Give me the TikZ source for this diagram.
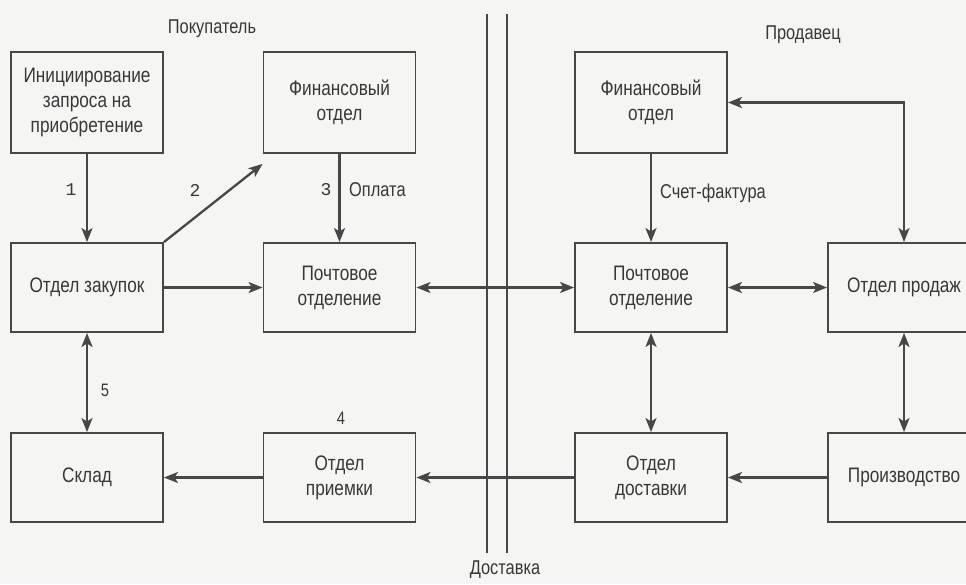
\documentclass[tikz,border=0pt]{standalone}
\usepackage{fontspec}
\setmainfont{Liberation Sans}[FakeStretch=0.82]
\newfontfamily\digitfont{Liberation Mono}
\usetikzlibrary{arrows.meta,calc}
\definecolor{ink}{HTML}{474747}
\definecolor{txt}{HTML}{383838}
\definecolor{paper}{HTML}{F5F5F3}
\tikzset{
  unit/.style={draw=ink, line width=1.9pt, inner sep=0pt, minimum width=152pt,
    minimum height=89pt, align=center, text=txt,
    font=\fontsize{21}{25}\selectfont},
  tallunit/.style={unit, minimum height=101pt},
  tip/.style={Stealth[length=14pt,width=11pt,inset=3.5pt]},
  flow/.style={draw=ink, line width=2.3pt, -{Stealth[length=14pt,width=11pt,inset=3.5pt]}},
  twoway/.style={draw=ink, line width=2.3pt,
    {Stealth[length=14pt,width=11pt,inset=3.5pt]}-{Stealth[length=14pt,width=11pt,inset=3.5pt]}},
  divider/.style={draw=ink, line width=1.5pt},
  caption/.style={text=txt, font=\fontsize{20}{24}\selectfont, inner sep=0pt},
  stepno/.style={text=txt, font=\digitfont\fontsize{18}{20}\selectfont, inner sep=0pt},
  stepnosans/.style={text=txt, font=\fontsize{18}{20}\selectfont, inner sep=0pt}
}
\begin{document}
\begin{tikzpicture}[x=1pt,y=-1pt]
\fill[paper] (0,0) rectangle (966,584);
\useasboundingbox (0,0) rectangle (966,584);

% buyer side
\node[tallunit] (init) at (87,102.5) {Инициирование\\запроса на\\приобретение};
\node[tallunit] (finB) at (339.5,102.5) {Финансовый\\отдел};
\node[unit] (purch) at (87,287.5) {Отдел закупок};
\node[unit] (postB) at (339.5,287.5) {Почтовое\\отделение};
\node[unit] (store) at (87,477.5) {Склад};
\node[unit] (recv) at (339.5,477.5) {Отдел\\приемки};

% seller side
\node[tallunit] (finS) at (651,102.5) {Финансовый\\отдел};
\node[unit] (postS) at (651,287.5) {Почтовое\\отделение};
\node[unit] (ship) at (651,477.5) {Отдел\\доставки};
\node[unit] (sales) at (904,287.5) {Отдел продаж};
\node[unit] (prod) at (904,477.5) {Производство};

% boundary between buyer and seller
\coordinate (d1t) at (487,14);
\coordinate (d1b) at (487,553);
\coordinate (d2t) at (507,14);
\coordinate (d2b) at (507,553);
\draw[divider] (d1t) -- (d1b);
\draw[divider] (d2t) -- (d2b);

% headings
\node[caption] (hbuy) at (212,29) {Покупатель};
\node[caption] (hsell) at (803,35) {Продавец};
\node[caption] (hship) at (505,570) {Доставка};

% buyer flows
\draw[flow] (init) -- (purch);
\coordinate (finBin) at ($(finB.south west)+(0,10)$);
\draw[flow] (purch.north east) -- (finBin);
\draw[flow] (finB) -- (postB);
\draw[flow] (purch) -- (postB);
\draw[twoway] (purch) -- (store);
\draw[flow] (recv) -- (store);

% between the two sides
\draw[twoway] (postB) -- (postS);
\draw[flow] (ship) -- (recv);

% seller flows
\draw[flow] (finS) -- (postS);
\draw[twoway] (postS) -- (sales);
\coordinate (bend) at (sales.north |- finS.east);
\draw[twoway] (finS.east) -- (bend) -- (sales.north);
\draw[twoway] (sales) -- (prod);
\draw[twoway] (postS) -- (ship);
\draw[flow] (prod) -- (ship);

% step labels
\node[stepno] (n1) at (71,190) {1};
\node[stepno] (n2) at (195,190) {2};
\node[stepno] (n3) at (326,190) {3};
\node[caption, anchor=west] (pay) at (349,190) {Оплата};
\node[stepnosans] (n4) at (341,418) {4};
\node[stepnosans] (n5) at (105,390) {5};
\node[caption] (inv) at (713,193) {Счет-фактура};
\end{tikzpicture}
\end{document}
